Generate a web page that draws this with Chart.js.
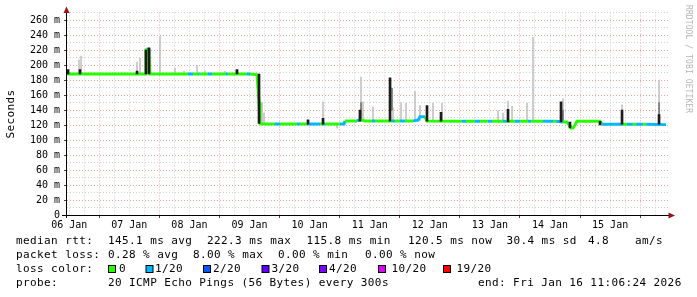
<!DOCTYPE html>
<html><head><meta charset="utf-8">
<script src="https://cdn.jsdelivr.net/npm/chart.js@4/dist/chart.umd.min.js"></script>
<style>html,body{margin:0;padding:0;background:#fff;}canvas{display:block;}</style>
</head><body>
<canvas id="c" width="697" height="297"></canvas>
<script>
// Time axis: fractional day of January 2026 (06 Jan 11:06 .. 16 Jan 11:06)
const tStart = 6.463;
const tEnd = 16.463;
const dayLabels = ['06 Jan','07 Jan','08 Jan','09 Jan','10 Jan','11 Jan','12 Jan','13 Jan','14 Jan','15 Jan'];

// median RTT (ms) and loss count (of 20) at each time
const medianT = [6.463,7.761,7.777,7.811,7.827,7.844,8.476,8.560,8.643,8.660,8.809,8.876,9.109,9.142,9.458,9.508,9.625,9.641,9.658,9.674,
  9.691,9.924,10.007,10.290,10.340,10.456,10.673,10.706,10.756,11.005,11.072,11.089,11.288,11.338,11.372,11.421,11.538,11.588,11.871,11.921,
  12.004,12.088,12.220,12.304,12.337,12.420,12.453,13.036,13.102,13.252,13.335,13.468,13.535,13.718,13.768,13.917,14.001,14.134,14.184,14.383,
  14.550,14.600,14.716,14.782,14.816,14.849,14.882,14.916,14.949,15.332,15.365,15.715,15.781,15.880,15.930,16.050,16.100,16.430];
const medianV = [188,188,220,222,220,188,188,188,188,188,188,188,188,188,188,188,187,187,151,122,
  121.5,121.5,121.5,121.5,121.5,121.5,121.5,121.5,121.5,121.5,121.5,125.5,125.5,127,126.5,125.5,125.5,125.5,125.5,125.5,
  125.5,125.5,125.5,126.5,131,131,125.3,125,125,125,125,125,125,125,125,125,125,125,125,125,
  125,125,124,124,120,116,116,120,125,125,121,121,121,121,121,121,121,120.5];
const medianLoss = [0,0,0,1,0,0,1,0,1,0,1,0,1,0,1,0,0,0,0,0,
  0,1,0,1,0,1,0,1,0,1,1,0,1,0,0,0,1,0,1,0,
  1,0,1,1,1,0,0,1,0,1,0,1,0,1,0,1,0,1,0,1,
  0,1,0,0,0,0,0,0,0,0,1,0,1,0,1,0,1,1];

// light smoke (min..max of pings)
const smokeT  = [6.663,6.696,7.628,7.678,8.010,8.260,8.410,8.626,8.759,9.092,9.275,9.708,9.741,10.723,10.956,11.355,11.388,11.554,11.887,12.021,12.104,12.253,12.337,12.553,12.703,13.635,13.718,13.801,13.868,14.117,14.217,14.716,15.698,16.314];
const smokeLo = [188,188,188,188,188,188,188,188,188,188,188,122,122,122,116,126,126,126,126,126,126,126,126,126,126,125,125,125,125,125,125,125,121,121];
const smokeHi = [207,212,204,209,238,196,192,200,192,192,193,149,136,151,121,184,151,144,143,150,149,165,146,149,149,139,136,152,145,149,237,155,147,180];

// medium smoke
const midT  = [11.355,11.871,14.716,15.698,16.314];
const midLo = [126,140,125,121,121];
const midHi = [150,169,140,135,150];

// dense (dark) smoke
const darkT  = [6.480,6.679,7.628,7.777,7.827,9.292,9.658,10.473,10.723,11.338,11.838,12.453,12.686,13.801,14.683,14.832,15.332,15.698,16.314];
const darkLo = [188,188,188,188,188,188,122,121,121,125,125,125,125,124,124,116,120,121,121];
const darkHi = [194,194,192,220,223,194,188,127,129,140,183,146,137,141,151,124,125,140,134];

const lossColors = {0:'#26ff00',1:'#00b8ff',2:'#0059ff',3:'#5e00ff',4:'#7e00ff',10:'#dd00ff',19:'#ff0000'};

const MONO = '"DejaVu Sans Mono", "Liberation Mono", monospace';
const MAJOR = '#eaa2a2';
const MINOR = '#d0d0d0';

const overlay = {
  id: 'overlay',
  afterDraw(chart) {
    const ctx = chart.ctx;
    ctx.save();
    // axes
    ctx.strokeStyle = '#000';
    ctx.lineWidth = 1;
    ctx.beginPath();
    ctx.moveTo(66.5, 218); ctx.lineTo(66.5, 10);
    ctx.moveTo(62, 215.5); ctx.lineTo(670, 215.5);
    ctx.stroke();
    ctx.fillStyle = '#9a1414';
    ctx.beginPath();
    ctx.moveTo(66.5, 6.5); ctx.lineTo(63.5, 13); ctx.lineTo(69.5, 13); ctx.closePath(); ctx.fill();
    ctx.beginPath();
    ctx.moveTo(675, 215.5); ctx.lineTo(668.5, 212.5); ctx.lineTo(668.5, 218.5); ctx.closePath(); ctx.fill();

    // y title
    ctx.fillStyle = '#000';
    ctx.font = '11px ' + MONO;
    ctx.letterSpacing = '0.4px';
    ctx.save();
    ctx.translate(11, 114);
    ctx.rotate(-Math.PI / 2);
    ctx.textAlign = 'center';
    ctx.textBaseline = 'middle';
    ctx.fillText('Seconds', 0, 0);
    ctx.restore();

    // watermark
    ctx.save();
    ctx.fillStyle = '#b4b4b4';
    ctx.font = '8px ' + MONO;
    ctx.letterSpacing = '0.1px';
    ctx.translate(688, 5);
    ctx.rotate(Math.PI / 2);
    ctx.textAlign = 'left';
    ctx.textBaseline = 'middle';
    ctx.fillText('RRDTOOL / TOBI OETIKER', 0, 0);
    ctx.restore();

    // legend
    ctx.fillStyle = '#000';
    ctx.textAlign = 'left';
    ctx.textBaseline = 'middle';
    const put = (s, x, y) => ctx.fillText(s, x, y);
    put('median rtt:', 16, 241);
    put('145.1 ms avg', 108, 241);
    put('222.3 ms max', 207, 241);
    put('115.8 ms min', 306.5, 241);
    put('120.5 ms now', 408, 241);
    put('30.4 ms sd', 506.5, 241);
    put('4.8', 588, 241);
    put('am/s', 635, 241);
    put('packet loss:', 16, 255);
    put('0.28 % avg', 108, 255);
    put('8.00 % max', 193, 255);
    put('0.00 % min', 278, 255);
    put('0.00 % now', 365, 255);
    put('loss color:', 16, 269);
    const boxes = [[108,'0','0'],[145.5,'1','1/20'],[203,'2','2/20'],[261.5,'3','3/20'],[319,'4','4/20'],[378,'10','10/20'],[443,'19','19/20']];
    const txtX = [119,155,213,271.5,329,391.5,456.5];
    boxes.forEach((b, i) => {
      ctx.fillStyle = lossColors[b[1]];
      ctx.fillRect(b[0] + 0.5, 265.5, 7, 7);
      ctx.strokeStyle = '#000';
      ctx.strokeRect(b[0] + 0.5, 265.5, 7, 7);
      ctx.fillStyle = '#000';
      put(b[2], txtX[i], 269);
    });
    put('probe:', 16, 283);
    put('20 ICMP Echo Pings (56 Bytes) every 300s', 108, 283);
    put('end: Fri Jan 16 11:06:24 2026', 478, 283);
    ctx.restore();
  }
};

const xTicks = [];
for (let v = 6.5; v <= 16.3; v += 0.25) xTicks.push(Math.round(v * 100) / 100);

new Chart(document.getElementById('c'), {
  type: 'line',
  data: {
    datasets: [
      {
        type: 'bar', label: 'smoke', order: 4,
        data: smokeT.map((t, i) => ({x: t, y: [smokeLo[i], smokeHi[i]]})),
        backgroundColor: '#c4c4c4', barThickness: 1, grouped: false, borderWidth: 0
      },
      {
        type: 'bar', label: 'smoke2', order: 3,
        data: midT.map((t, i) => ({x: t, y: [midLo[i], midHi[i]]})),
        backgroundColor: '#7a7a7a', barThickness: 1, grouped: false, borderWidth: 0
      },
      {
        type: 'line', label: 'median', order: 2,
        data: medianT.map((t, i) => ({x: t, y: medianV[i]})),
        borderWidth: 3, pointRadius: 0, tension: 0, fill: false,
        borderColor: lossColors[0], borderCapStyle: 'butt',
        segment: { borderColor: c => lossColors[medianLoss[c.p0DataIndex]] }
      },
      {
        type: 'bar', label: 'dark', order: 1,
        data: darkT.map((t, i) => ({x: t, y: [darkLo[i], darkHi[i]]})),
        backgroundColor: '#1c1c1c', barThickness: 2, grouped: false, borderWidth: 0
      }
    ]
  },
  options: {
    responsive: false,
    animation: false,
    devicePixelRatio: 1,
    layout: { padding: { left: 0, right: 29, top: 12.5, bottom: 67 } },
    plugins: { legend: { display: false }, tooltip: { enabled: false } },
    scales: {
      x: {
        type: 'linear', min: tStart, max: tEnd, offset: false,
        afterFit: s => { s.height = 15; },
        afterBuildTicks: s => { s.ticks = xTicks.map(v => ({value: v})); },
        border: { display: false, dash: [1, 2] },
        grid: {
          offset: false,
          tickLength: 3,
          color: c => (c.tick && Number.isInteger(c.tick.value)) ? MAJOR : MINOR,
          tickColor: c => (c.tick && Number.isInteger(c.tick.value)) ? '#444' : 'rgba(0,0,0,0)'
        },
        ticks: {
          autoSkip: false, maxRotation: 0, minRotation: 0, padding: 1,
          color: '#000', font: { family: MONO, size: 10 },
          callback: v => (Math.abs(v % 1 - 0.5) < 1e-6) ? dayLabels[Math.floor(v) - 6] : ''
        }
      },
      y: {
        min: 0, max: 270,
        afterFit: s => { s.width = 67; },
        border: { display: false, dash: [1, 2] },
        grid: {
          tickLength: 3,
          color: c => (c.tick && c.tick.value % 20 === 0) ? MAJOR : MINOR,
          tickColor: c => (c.tick && c.tick.value % 20 === 0) ? '#444' : 'rgba(0,0,0,0)'
        },
        ticks: {
          stepSize: 10, autoSkip: false, padding: 4,
          color: '#000', font: { family: MONO, size: 10 },
          callback: v => v === 0 ? '0' : (v % 20 === 0 ? v + ' m' : '')
        }
      }
    }
  },
  plugins: [overlay]
});
</script>
</body></html>
